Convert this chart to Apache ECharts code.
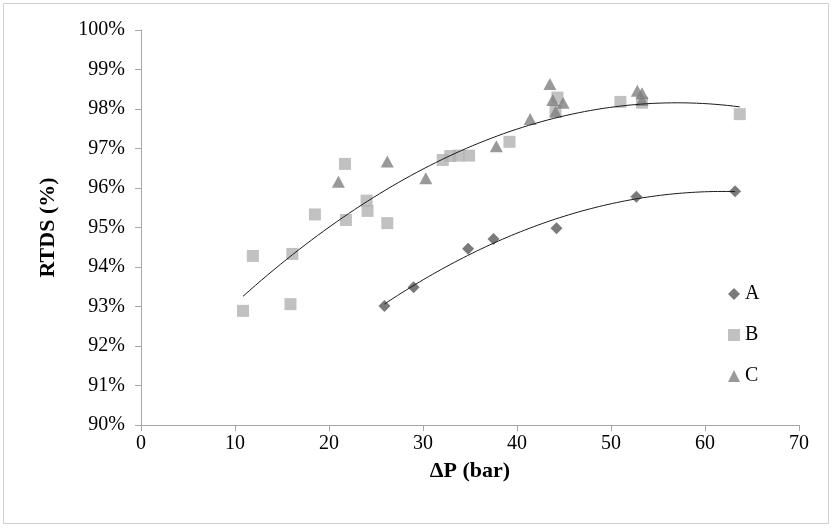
<!DOCTYPE html>
<html>
<head>
<meta charset="utf-8">
<script src="https://cdn.jsdelivr.net/npm/echarts@6/dist/echarts.min.js"></script>
<style>
  html, body { margin: 0; padding: 0; background: #fff; }
  #chart { width: 832px; height: 528px; }
</style>
</head>
<body>
<div id="chart"></div>
<script>
// Series A (diamonds): [ΔP bar, RTDS %]
const seriesA = [
  [25.9, 93.01], [29.0, 93.49], [34.8, 94.46], [37.5, 94.71],
  [44.2, 94.98], [52.7, 95.78], [63.2, 95.92]
];
// Series B (squares)
const seriesB = [
  [10.85, 92.89], [11.9, 94.28], [15.9, 93.06], [16.1, 94.33], [18.5, 95.33],
  [21.7, 96.61], [21.8, 95.19], [24.0, 95.68], [24.1, 95.42], [26.2, 95.11],
  [32.1, 96.71], [32.9, 96.81], [33.8, 96.82], [34.9, 96.82], [39.2, 97.17],
  [44.3, 98.29], [44.1, 97.96], [51.0, 98.18], [53.3, 98.16], [63.7, 97.87]
];
// Series C (triangles)
const seriesC = [
  [21.0, 96.16], [26.2, 96.67], [30.3, 96.25], [37.8, 97.06], [41.4, 97.75],
  [43.5, 98.63], [43.8, 98.23], [44.9, 98.16], [44.1, 97.93],
  [52.8, 98.46], [53.3, 98.40], [53.3, 98.23]
];
const xTicks = [0, 10, 20, 30, 40, 50, 60, 70];
const yTicks = [90, 91, 92, 93, 94, 95, 96, 97, 98, 99, 100];

// quadratic least-squares trendline (like a spreadsheet poly-2 trendline)
function polyFit2(pts) {
  let s = [0, 0, 0, 0, 0], t = [0, 0, 0];
  pts.forEach(function (p) {
    let xp = 1;
    for (let k = 0; k < 5; k++) { s[k] += xp; if (k < 3) t[k] += xp * p[1]; xp *= p[0]; }
  });
  const m = [[s[0], s[1], s[2], t[0]], [s[1], s[2], s[3], t[1]], [s[2], s[3], s[4], t[2]]];
  for (let i = 0; i < 3; i++) {
    for (let j = i + 1; j < 3; j++) {
      const f = m[j][i] / m[i][i];
      for (let k = i; k < 4; k++) m[j][k] -= f * m[i][k];
    }
  }
  const c = [0, 0, 0];
  for (let i = 2; i >= 0; i--) {
    let v = m[i][3];
    for (let k = i + 1; k < 3; k++) v -= m[i][k] * c[k];
    c[i] = v / m[i][i];
  }
  return c;
}
function trend(pts) {
  const c = polyFit2(pts);
  const xs = pts.map(p => p[0]);
  const x0 = Math.min.apply(null, xs), x1 = Math.max.apply(null, xs);
  const out = [];
  for (let i = 0; i <= 80; i++) {
    const x = x0 + (x1 - x0) * i / 80;
    out.push([x, c[0] + c[1] * x + c[2] * x * x]);
  }
  return out;
}

const chart = echarts.init(document.getElementById('chart'));
const serif = 'Liberation Serif';

chart.setOption({
  animation: false,
  textStyle: { fontFamily: serif },
  graphic: [{
    type: 'rect',
    shape: { x: 3.5, y: 3.5, width: 825, height: 520 },
    style: { fill: 'none', stroke: '#d0d0d0', lineWidth: 1 }
  }],
  grid: { left: 141, right: 33, top: 30, bottom: 103 },
  legend: {
    orient: 'vertical',
    left: 723,
    top: 279,
    itemWidth: 12,
    itemHeight: 12,
    itemGap: 21,
    data: ['A', 'B', 'C'],
    textStyle: { fontFamily: serif, fontSize: 20, color: '#000' }
  },
  xAxis: {
    type: 'value',
    min: 0, max: 70, interval: 10,
    name: 'ΔP (bar)',
    nameLocation: 'middle',
    nameGap: 35,
    nameTextStyle: { fontFamily: serif, fontSize: 22, fontWeight: 'bold', color: '#000' },
    axisLine: { show: true, lineStyle: { color: '#a6a6a6' } },
    axisTick: { show: true, length: 6, lineStyle: { color: '#a6a6a6' } },
    axisLabel: { fontFamily: serif, fontSize: 20, color: '#000', margin: 9,
      formatter: v => xTicks.indexOf(v) >= 0 ? String(v) : '' },
    splitLine: { show: false }
  },
  yAxis: {
    type: 'value',
    min: 90, max: 100, interval: 1,
    name: 'RTDS (%)',
    nameLocation: 'middle',
    nameGap: 82,
    nameTextStyle: { fontFamily: serif, fontSize: 22, fontWeight: 'bold', color: '#000' },
    axisLine: { show: true, lineStyle: { color: '#a6a6a6' } },
    axisTick: { show: true, length: 6, lineStyle: { color: '#a6a6a6' } },
    axisLabel: { fontFamily: serif, fontSize: 20, color: '#000', margin: 16,
      formatter: v => yTicks.indexOf(v) >= 0 ? v + '%' : '' },
    splitLine: { show: false }
  },
  series: [
    {
      name: 'A', type: 'scatter', data: seriesA,
      symbol: 'diamond', symbolSize: 12,
      itemStyle: { color: '#595959' }, z: 3
    },
    {
      name: 'B', type: 'scatter', data: seriesB,
      symbol: 'rect', symbolSize: 12,
      itemStyle: { color: '#b2b2b2' }, z: 3
    },
    {
      name: 'C', type: 'scatter', data: seriesC,
      symbol: 'triangle', symbolSize: [13, 12],
      itemStyle: { color: '#7f7f7f' }, z: 3
    },
    {
      type: 'line', data: trend(seriesA), showSymbol: false, symbol: 'none',
      lineStyle: { color: '#1a1a1a', width: 1 }, silent: true, z: 4
    },
    {
      type: 'line', data: trend(seriesB), showSymbol: false, symbol: 'none',
      lineStyle: { color: '#1a1a1a', width: 1 }, silent: true, z: 4
    }
  ]
});
</script>
</body>
</html>
